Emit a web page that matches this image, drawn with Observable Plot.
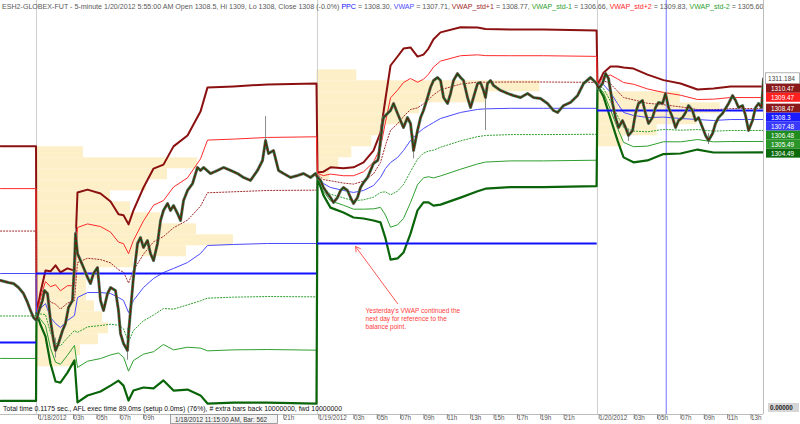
<!DOCTYPE html>
<html><head><meta charset="utf-8">
<script src="https://cdn.jsdelivr.net/npm/d3@7"></script>
<script src="https://cdn.jsdelivr.net/npm/@observablehq/plot@0.6"></script>
<style>
html,body{margin:0;padding:0;background:#fff;}
#chart{width:800px;height:424px;overflow:hidden;}
svg{display:block;}
</style></head><body><div id="chart"></div>
<script>
// ---------- DATA (time in hours from 1/18/2012 00:00, prices in index points) ----------
const days = ["1/17/2012", "1/18/2012", "1/19/2012", "1/20/2012"];
const dayStart = [-3.08, 0, 24.06, 48.03];
const dayEnd = [0, 24.0, 48.0, 62.24];
const ppcValues = [1287.21, 1293.48, 1296.21, 1308.3];

const band17H = [-3.08, -0.04];
const band17V = [1293.48, 1293.48];
const band17S = [3.86, 3.86];
const band18H = [0, 0.35, 0.77, 1.2, 1.63, 2.05, 2.65, 3.25, 3.51, 4.37, 5.48, 6.34, 7.02, 7.45, 7.88, 8.3, 9.16, 10.02, 10.87, 11.73, 12.93, 14.04, 14.64, 16.87, 19.78, 23.97];
const band18V = [1289.85, 1290.3, 1290.75, 1289.48, 1288.94, 1288.57, 1289.21, 1289.66, 1291.3, 1291.75, 1291.75, 1291.66, 1291.3, 1291.03, 1289.94, 1291.03, 1292.21, 1293.03, 1293.57, 1293.94, 1294.48, 1295.3, 1296.03, 1296.12, 1296.21, 1296.21];
const band18S = [0, 0.5, 1.0, 1.4, 1.76, 1.67, 1.58, 1.36, 3.18, 3.12, 3.0, 2.79, 2.52, 2.58, 2.67, 2.73, 3.03, 3.33, 3.27, 3.7, 3.85, 4.3, 4.79, 4.79, 4.82, 4.85];
const band19H = [24.06, 24.57, 25.17, 26.28, 27.14, 28.0, 28.85, 29.45, 29.88, 30.31, 30.91, 31.42, 32.02, 32.62, 33.13, 33.56, 33.99, 34.59, 36.3, 37.76, 38.44, 40.58, 43.41, 47.95];
const band19V = [1302.39, 1301.66, 1301.3, 1301.03, 1300.85, 1301.03, 1301.48, 1302.21, 1303.03, 1303.57, 1304.03, 1304.66, 1305.57, 1306.21, 1306.66, 1306.94, 1307.21, 1307.57, 1308.12, 1308.4, 1308.45, 1308.5, 1308.5, 1308.5];
const band19S = [0.09, 0.36, 0.61, 0.67, 0.76, 0.85, 1.06, 1.36, 2.12, 2.94, 3.06, 3.09, 2.82, 2.33, 2.24, 2.33, 2.52, 2.61, 2.58, 2.48, 2.42, 2.39, 2.39, 2.36];
const band20H = [48.03, 48.54, 49.14, 49.74, 50.26, 51.11, 52.31, 53.68, 55.14, 56.59, 57.96, 59.42, 62.24];
const band20V = [1310.57, 1310.66, 1309.94, 1308.94, 1308.12, 1307.85, 1307.66, 1307.7, 1307.57, 1307.48, 1307.39, 1307.48, 1307.48];
const band20S = [0, 0.36, 0.79, 1.12, 1.36, 1.42, 1.3, 1.12, 1.06, 0.91, 0.97, 1.0, 0.997];

const priceH = [-3.08, -2.4, -1.97, -1.54, -1.11, -0.77, -0.51, -0.26, 0.0,
 0.17, 0.51, 0.68, 0.94, 1.2, 1.46, 1.63, 1.88, 2.23, 2.48, 2.74, 3.08, 3.25, 3.34, 3.51, 3.77, 4.02, 4.37, 4.62, 4.88, 5.22, 5.48, 5.74, 6.08, 6.34, 6.76, 7.02, 7.19, 7.45, 7.79, 7.88, 8.05, 8.3, 8.65, 8.9, 9.16, 9.5, 9.76, 10.02, 10.36, 10.62, 10.87, 11.22, 11.47, 11.73, 12.07, 12.33, 12.59, 12.93, 13.36, 13.78, 14.04, 14.3, 14.9, 15.5, 16.01, 16.61, 17.21, 17.72, 18.32, 18.92, 19.35, 19.61, 19.86, 20.29, 20.72, 21.15, 21.75, 22.35, 22.86, 23.46, 23.89,
 24.06, 24.32, 24.57, 24.91, 25.17, 25.43, 25.77, 26.03, 26.28, 26.63, 26.88, 27.14, 27.48, 27.74, 28.0, 28.34, 28.6, 28.85, 29.2, 29.28, 29.45, 29.62, 29.71, 30.05, 30.31, 30.57, 30.91, 31.16, 31.42, 31.76, 32.02, 32.19, 32.28, 32.62, 32.88, 33.13, 33.48, 33.73, 33.99, 34.33, 34.59, 34.85, 35.19, 35.45, 35.7, 36.04, 36.3, 36.56, 36.9, 37.16, 37.41, 37.76, 38.01, 38.27, 38.44, 38.61, 38.87, 39.13, 39.73, 40.33, 40.84, 41.44, 42.04, 42.55, 43.15, 43.75, 44.26, 44.61, 45.12, 45.72, 46.32, 46.83, 47.43, 47.69, 47.95,
 48.12, 48.46, 48.72, 48.97, 49.32, 49.57, 49.83, 50.17, 50.43, 50.68, 51.03, 51.28, 51.54, 51.88, 52.14, 52.4, 52.74, 53.0, 53.25, 53.6, 53.85, 54.11, 54.45, 54.71, 54.97, 55.31, 55.57, 55.82, 56.16, 56.42, 56.68, 57.02, 57.28, 57.53, 57.88, 58.13, 58.39, 58.73, 58.99, 59.25, 59.59, 59.85, 60.1, 60.45, 60.7, 60.96, 61.3, 61.56, 61.82, 62.07, 62.24];
const priceC = [1292.85, 1292.66, 1292.57, 1292.21, 1291.66, 1290.85, 1290.12, 1289.48, 1289.21,
 1289.94, 1291.03, 1291.94, 1291.66, 1289.21, 1287.39, 1286.48, 1287.12, 1288.3, 1288.94, 1290.39, 1291.03, 1294.39, 1297.12, 1295.3, 1294.66, 1294.03, 1293.12, 1292.57, 1293.48, 1294.03, 1291.03, 1290.12, 1291.66, 1292.21, 1291.94, 1290.12, 1288.03, 1287.12, 1286.48, 1288.03, 1290.12, 1293.12, 1296.21, 1296.75, 1295.85, 1296.48, 1295.3, 1294.66, 1296.21, 1298.3, 1299.21, 1299.85, 1299.21, 1299.66, 1298.94, 1298.3, 1300.12, 1301.03, 1301.66, 1303.12, 1302.85, 1303.12, 1302.57, 1302.85, 1303.12, 1302.85, 1302.57, 1302.21, 1301.94, 1302.85, 1303.75, 1305.57, 1304.39, 1304.66, 1302.85, 1302.57, 1302.21, 1302.39, 1302.57, 1302.21, 1302.57,
 1302.21, 1301.94, 1301.3, 1300.75, 1300.39, 1299.94, 1300.39, 1301.03, 1301.3, 1301.03, 1300.39, 1299.85, 1300.39, 1301.3, 1301.75, 1302.21, 1302.85, 1303.48, 1303.75, 1304.03, 1305.57, 1307.12, 1307.66, 1308.03, 1308.3, 1308.94, 1308.03, 1307.39, 1306.75, 1307.66, 1307.12, 1305.57, 1304.66, 1306.48, 1307.66, 1308.3, 1309.48, 1310.39, 1311.03, 1311.3, 1311.03, 1309.48, 1308.94, 1309.85, 1311.03, 1311.66, 1311.3, 1311.03, 1309.48, 1308.57, 1309.48, 1310.75, 1310.85, 1310.12, 1309.48, 1310.75, 1311.03, 1310.57, 1310.12, 1309.85, 1309.66, 1309.48, 1309.85, 1309.48, 1309.39, 1308.94, 1308.3, 1308.12, 1308.75, 1309.03, 1309.66, 1310.75, 1311.3, 1311.03, 1310.75,
 1310.3, 1310.75, 1311.66, 1311.21, 1308.94, 1307.66, 1306.75, 1307.39, 1306.75, 1306.03, 1306.48, 1308.03, 1308.94, 1309.21, 1308.03, 1307.12, 1307.66, 1308.57, 1309.03, 1308.94, 1309.85, 1308.57, 1307.66, 1306.75, 1307.39, 1307.66, 1308.12, 1308.75, 1308.3, 1307.39, 1307.66, 1306.75, 1306.03, 1305.57, 1306.21, 1307.12, 1307.66, 1308.03, 1308.48, 1308.94, 1309.66, 1309.21, 1308.57, 1308.75, 1307.85, 1306.48, 1307.39, 1308.57, 1308.94, 1308.57, 1311.184];

// notable bar wicks (high / low)
const wickH = [1.63, 3.34, 7.79, 19.61, 32.28, 38.44, 50.68, 57.53];
const wickHi = [1287.6, 1297.6, 1288.5, 1307.75, 1306.0, 1310.0, 1306.6, 1306.2];
const wickLo = [1285.8, 1294.5, 1285.6, 1305.0, 1303.9, 1306.48, 1305.5, 1305.2];

// volume profile: 1-point price bins starting at profLow, relative volume per bin
const prof18Low = 1285;
const prof18Vol = [40, 44, 62, 72, 66, 58, 50, 50, 62, 97, 150, 197, 160, 124, 94, 74, 110, 131, 161, 47];
const prof19Low = 1302;
const prof19Vol = [13, 22, 35, 55, 66, 90, 103, 170, 223, 40];
const prof20Low = 1305;
const prof20Vol = [26, 60, 100, 123, 83];

const tickH = [0, 3, 5, 7, 9, 21, 24, 27, 29, 31, 33, 35, 37, 39, 41, 43, 45, 48, 51, 53, 55, 57, 59, 61];
const tickLabels = ["1/18/2012", "03h", "05h", "07h", "09h", "21h", "1/19/2012", "03h", "05h", "07h", "09h", "11h", "13h", "15h", "17h", "19h", "21h", "1/20/2012", "03h", "05h", "07h", "09h", "11h", "13h"];

const cursorH = 53.92;
const lastClose = 1311.184;
const lastLabels = ["1310.47", "1309.47", "1308.47", "1308.3", "1307.48", "1306.48", "1305.49", "1304.49"];
const lastLabelSeries = ["std+3", "std+2", "std+1", "ppc", "vwap", "std-1", "std-2", "std-3"];

const titleParts = [
  ["ESH2-GLOBEX-FUT - 5-minute 1/20/2012 5:55:00 AM Open 1308.5, Hi 1309, Lo 1308, Close 1308 (-0.0%) ", "text"],
  ["PPC", "ppc"], [" = 1308.30, ", "text"],
  ["VWAP", "vwap"], [" = 1307.71, ", "text"],
  ["VWAP_std+1", "std+1"], [" = 1308.77, ", "text"],
  ["VWAP_std-1", "std-1"], [" = 1306.66, ", "text"],
  ["VWAP_std+2", "std+2"], [" = 1309.83, ", "text"],
  ["VWAP_std-2", "std-2"], [" = 1305.60", "text"]
];
const footText = "Total time 0.1175 sec., AFL exec time 89.0ms (setup 0.0ms) (76%), # extra bars back 10000000, fwd 10000000";
const cursorText = "1/18/2012 11:15:00 AM, Bar: 562";
const noteText = "Yesterday's VWAP continued the\nnext day for reference to the\nbalance point.";
const noteAt = {h: 28.17, p: 1290.45};
const arrowFrom = {h: 30.91, p: 1290.75};
const arrowTo = {h: 27.31, p: 1295.94};

// ---------- BUILD ----------
const colors = {
  "text": "#5a5a5a", "ppc": "#1010ff", "vwap": "#4a4aff",
  "std+1": "#a02a2a", "std+2": "#ff2a2a", "std+3": "#8b1010",
  "std-1": "#2f9f2f", "std-2": "#2f9f2f", "std-3": "#0a640a"
};
const labelBg = {
  "std+3": "#8b1a1a", "std+2": "#ff2020", "std+1": "#8b1a1a", "ppc": "#1a1aff",
  "vwap": "#3a3aff", "std-1": "#1e8c1e", "std-2": "#2a962a", "std-3": "#0b6b0b"
};

const bands = [];
[[band17H, band17V, band17S], [band18H, band18V, band18S], [band19H, band19V, band19S], [band20H, band20V, band20S]]
  .forEach(([H, V, S]) => H.forEach((h, i) => bands.push({h, v: V[i], s: S[i]})));
const price = priceH.map((h, i) => ({h, c: priceC[i]}));
const wicks = wickH.map((h, i) => ({h, hi: wickHi[i], lo: wickLo[i]}));
const ppc = ppcValues.map((v, i) => ({v, a: dayStart[i], b: dayEnd[i]}));
const HOURS_PER_VOL = 1 / 11.68;
const profile = [];
[[0, prof18Low, prof18Vol], [24, prof19Low, prof19Vol], [48, prof20Low, prof20Vol]].forEach(([start, lo, vols]) =>
  vols.forEach((v, i) => profile.push({x1: start, x2: start + v * HOURS_PER_VOL, y1: lo + i, y2: lo + i + 1})));

const xDomain = [-3.082, 62.24];
const P0 = 1318.3;
const yDomain = [P0 - 414 / 11, P0];

const bandDefs = [
  {k: 3, key: "std+3", w: 2}, {k: 2, key: "std+2", w: 1}, {k: 1, key: "std+1", w: 1, dash: "1.2,1.8"},
  {k: 0, key: "vwap", w: 1}, {k: -1, key: "std-1", w: 1, dash: "1.2,1.8"}, {k: -2, key: "std-2", w: 1}, {k: -3, key: "std-3", w: 2.2}
];
const tickMap = new Map(tickH.map((h, i) => [h, tickLabels[i]]));

const svg = Plot.plot({
  width: 800, height: 424,
  marginLeft: 0, marginRight: 37, marginTop: 0, marginBottom: 10,
  x: {domain: xDomain},
  y: {domain: yDomain, axis: null},
  style: {background: "white", fontFamily: "Liberation Sans, Arial, sans-serif", fontSize: "6px", overflow: "hidden"},
  marks: [
    Plot.rect(profile, {x1: "x1", x2: "x2", y1: "y1", y2: "y2", fill: "#fdf0c9", clip: true}),
    Plot.ruleX(dayStart.slice(1), {stroke: "#cfcfcf", strokeWidth: 1}),
    Plot.ruleX([cursorH], {stroke: "#9a9aff", strokeWidth: 1.4}),
    ...bandDefs.map(b => Plot.line(bands, {x: "h", y: d => d.v + b.k * d.s, stroke: colors[b.key], strokeWidth: b.w, strokeDasharray: b.dash, clip: true})),
    Plot.ruleY(ppc, {y: "v", x1: "a", x2: "b", stroke: colors.ppc, strokeWidth: 2.2}),
    Plot.ruleX(wicks, {x: "h", y1: "lo", y2: "hi", stroke: "#8a8a8a", strokeWidth: 1}),
    Plot.line(price, {x: "h", y: "c", stroke: "#7a7a7a", strokeWidth: 3, clip: true}),
    Plot.line(price, {x: "h", y: "c", stroke: "#155515", strokeWidth: 1.8, clip: true}),
    Plot.line(price, {x: "h", y: "c", stroke: "#8b0a0a", strokeWidth: 1, strokeDasharray: "2,3", clip: true}),
    Plot.arrow([{}], {x1: arrowFrom.h, y1: arrowFrom.p, x2: arrowTo.h, y2: arrowTo.p, stroke: "#ff5a5a", strokeWidth: 1, headLength: 8, bend: 0}),
    Plot.text([noteText], {x: noteAt.h, y: noteAt.p, text: d => d, textAnchor: "start", lineAnchor: "top", fill: "#ff3a3a", fontSize: 6.5, lineHeight: 1.23}),
    Plot.ruleY([yDomain[0]], {stroke: "#bdbdbd"}),
    Plot.ruleX([xDomain[1]], {stroke: "#bdbdbd"}),
    Plot.axisX(tickH, {anchor: "bottom", tickFormat: d => tickMap.get(d), tickSize: 5, tickPadding: -4, textAnchor: "start", dx: 2, fill: "#555", stroke: "#8a8a8a", fontSize: 6.3})
  ]
});

const g = d3.select(svg);
const ys = svg.scale("y");
const font = "Liberation Sans, Arial, sans-serif";
const addText = (x, y, size, fill, s) => g.append("text").attr("x", x).attr("y", y).attr("font-size", size)
  .attr("font-family", font).attr("fill", fill).attr("text-anchor", "start").text(s);

// title
g.append("defs").append("clipPath").attr("id", "tclip").append("rect").attr("x", 0).attr("y", 0).attr("width", 763).attr("height", 14);
const t = g.append("text").attr("x", 2).attr("y", 8.6).attr("font-size", 7.1).attr("font-family", font)
  .attr("text-anchor", "start").attr("clip-path", "url(#tclip)").style("white-space", "pre");
titleParts.forEach(([s, c]) => t.append("tspan").attr("fill", colors[c]).text(s));

// footer text
addText(3, 411.3, 6.9, "#111", footText);

// cursor box on time axis
g.append("rect").attr("x", 170.5).attr("y", 414.5).attr("width", 107).attr("height", 9).attr("fill", "#f3f3f3").attr("stroke", "#8a8a8a").attr("stroke-width", 0.8);
addText(175, 421.6, 6.3, "#333", cursorText);

// right labels
const lastY = ys.apply(lastClose);
g.append("rect").attr("x", 765.5).attr("y", lastY - 5.5).attr("width", 34).attr("height", 11).attr("fill", "#fff").attr("stroke", "#a0a0a0").attr("stroke-width", 0.8);
addText(768, lastY + 2.3, 6.6, "#444", lastClose.toFixed(3));
let prevBottom = lastY + 5.5;
lastLabels.forEach((s, i) => {
  const top = Math.max(ys.apply(+s) - 4.5, prevBottom);
  prevBottom = top + 9;
  g.append("rect").attr("x", 766).attr("y", top).attr("width", 34).attr("height", 9).attr("fill", labelBg[lastLabelSeries[i]]);
  addText(771, top + 7, 6.4, "#fff", s);
});
g.append("rect").attr("x", 768).attr("y", 403).attr("width", 31).attr("height", 9).attr("fill", "#d6d6d6");
addText(770, 410.3, 6.3, "#222", "0.00000").attr("font-weight", "bold");

document.getElementById("chart").appendChild(svg);
</script></body></html>
